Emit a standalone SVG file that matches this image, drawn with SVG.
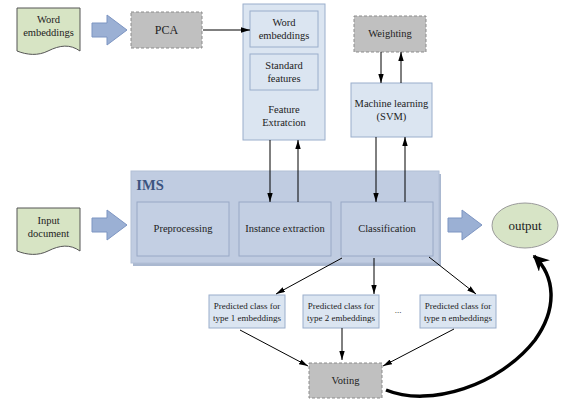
<svg xmlns="http://www.w3.org/2000/svg" width="564" height="405" viewBox="0 0 564 405" font-family="Liberation Serif" fill="#222">
<defs>
<style>
text{text-anchor:middle}
.t{font-size:10.5px}
.s{font-size:9px}
.doc{fill:#d7e4c4;stroke:#555;stroke-width:1}
.gray{fill:#c0c0c0;stroke:#8c8c8c;stroke-width:1;stroke-dasharray:3,2}
.lb{fill:#dbe5f1;stroke:#9aaecb;stroke-width:1}
.ib{fill:#c3cfe3;stroke:#98a8c6;stroke-width:1}
.fat{fill:#9bb0d4;stroke:#7d95c2;stroke-width:1}
.ln{stroke:#000;stroke-width:1;fill:none;marker-end:url(#ah)}
</style>
<marker id="ah" viewBox="0 0 10 6" refX="10" refY="3" markerWidth="9" markerHeight="5.4" markerUnits="userSpaceOnUse" orient="auto"><path d="M0,0 L10,3 L0,6 Z" fill="#000"/></marker>
<marker id="big" viewBox="0 0 10 10" refX="9" refY="5" markerWidth="16" markerHeight="16" markerUnits="userSpaceOnUse" orient="auto"><path d="M0,0 L10,5 L0,10 L3,5 Z" fill="#000"/></marker>
</defs>

<g id="word-embeddings-doc">
<path class="doc" d="M17,8 H80 V51 C70,44 60,45 48,51 C38,56 27,55 17,51 Z"/>
<text class="t" x="48.5" y="23">Word</text>
<text class="t" x="48.5" y="36">embeddings</text>
</g>

<g id="input-document">
<path class="doc" d="M17,208 H80 V251 C70,244 60,245 48,251 C38,256 27,255 17,251 Z"/>
<text class="t" x="48.5" y="224">Input</text>
<text class="t" x="48.5" y="237">document</text>
</g>

<g id="fat-arrows">
<path class="fat" d="M92,23 H107 V15 L127,30 L107,45 V37 H92 Z"/>
<path class="fat" d="M92,218 H107 V210 L127,225 L107,240 V232 H92 Z"/>
<path class="fat" d="M448,218 H462 V210 L482,225 L462,240 V232 H448 Z"/>
</g>

<g id="pca">
<rect class="gray" x="131" y="12" width="71" height="36"/>
<text font-size="12" x="166.5" y="34">PCA</text>
</g>

<g id="feature-extraction">
<rect class="lb" x="243" y="4" width="82" height="136"/>
<rect class="lb" x="250" y="11" width="68" height="36"/>
<text class="t" x="284" y="26">Word</text>
<text class="t" x="284" y="39">embeddings</text>
<rect class="lb" x="250" y="54" width="68" height="36"/>
<text class="t" x="284" y="69">Standard</text>
<text class="t" x="284" y="82">features</text>
<text class="t" x="284" y="113">Feature</text>
<text class="t" x="284" y="126">Extratcion</text>
</g>

<g id="weighting">
<rect class="gray" x="354" y="16" width="72" height="36"/>
<text class="t" x="390" y="37">Weighting</text>
</g>

<g id="machine-learning">
<rect class="lb" x="351" y="83" width="81" height="54"/>
<text class="t" x="391.5" y="107">Machine learning</text>
<text class="t" x="391.5" y="120">(SVM)</text>
</g>

<g id="ims">
<rect x="133" y="174" width="308" height="92" fill="#aab8d0"/>
<rect x="131" y="171" width="308" height="92" fill="#c0cce1" stroke="#b2bfd6" stroke-width="1"/>
<text x="150" y="190" font-size="14.5" font-weight="bold" fill="#3d5480">IMS</text>
</g>

<g id="preprocessing">
<rect class="ib" x="137" y="202" width="92" height="54"/>
<text class="t" x="183" y="232">Preprocessing</text>
</g>

<g id="instance-extraction">
<rect class="ib" x="239" y="202" width="92" height="54"/>
<text class="t" x="285" y="232">Instance extraction</text>
</g>

<g id="classification">
<rect class="ib" x="341" y="202" width="92" height="54"/>
<text class="t" x="387" y="232">Classification</text>
</g>

<g id="output">
<ellipse cx="525" cy="225.5" rx="33" ry="22.5" fill="#d7e4c6" stroke="#9a9a9a" stroke-width="1"/>
<text font-size="13" x="525" y="230">output</text>
</g>

<g id="pred1">
<rect class="lb" x="209" y="295" width="76" height="33"/>
<text class="s" x="247" y="309">Predicted class for</text>
<text class="s" x="247" y="321">type 1 embeddings</text>
</g>
<g id="pred2">
<rect class="lb" x="303" y="295" width="76" height="33"/>
<text class="s" x="341" y="309">Predicted class for</text>
<text class="s" x="341" y="321">type 2 embeddings</text>
</g>
<g id="ellipsis">
<text class="s" x="398" y="313">...</text>
</g>
<g id="predn">
<rect class="lb" x="420" y="295" width="76" height="33"/>
<text class="s" x="458" y="309">Predicted class for</text>
<text class="s" x="458" y="321">type n embeddings</text>
</g>

<g id="voting">
<rect class="gray" x="309" y="363" width="73" height="35"/>
<text class="t" x="345.5" y="384">Voting</text>
</g>

<g id="connectors">
<line class="ln" x1="203" y1="30" x2="250" y2="30"/>
<line class="ln" x1="381" y1="52" x2="381" y2="83"/>
<line class="ln" x1="401" y1="83" x2="401" y2="52"/>
<line class="ln" x1="270" y1="140" x2="270" y2="202"/>
<line class="ln" x1="298" y1="202" x2="298" y2="140"/>
<line class="ln" x1="376" y1="137" x2="376" y2="202"/>
<line class="ln" x1="405" y1="202" x2="405" y2="137"/>
<line class="ln" x1="342" y1="258" x2="276" y2="294"/>
<line class="ln" x1="374" y1="258" x2="374" y2="294"/>
<line class="ln" x1="429" y1="257" x2="476" y2="294"/>
<line class="ln" x1="240" y1="330" x2="308" y2="366"/>
<line class="ln" x1="342" y1="328" x2="342" y2="360"/>
<line class="ln" x1="454" y1="329" x2="383" y2="366"/>
<path d="M386,390 C430,408 500,385 535,340 C558,308 555,276 534,256" fill="none" stroke="#000" stroke-width="3.5" marker-end="url(#big)"/>
</g>
</svg>
